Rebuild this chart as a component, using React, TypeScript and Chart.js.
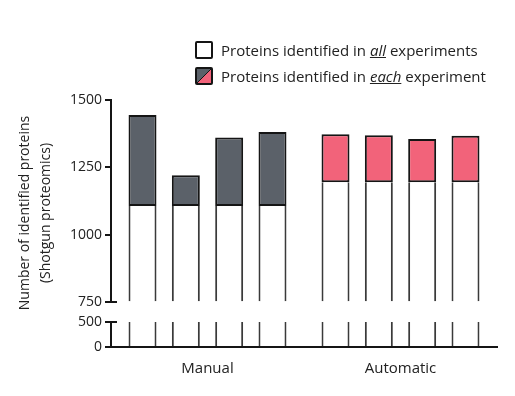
import React, { useEffect, useRef } from 'react';
import { Chart, registerables } from 'chart.js';

Chart.register(...registerables);

// ---------- data ----------
const categories = ['Manual', 'Automatic'];
const experiments = ['1', '2', '3', '4'];
// proteins identified in all experiments (per group)
const inAllExperiments = [1107, 1195];
// proteins identified in each experiment (bar totals)
const manualTotals = [1444, 1221, 1361, 1381];
const automaticTotals = [1373, 1369, 1355, 1367];
const upperTicks = [750, 1000, 1250, 1500];
const lowerTicks = [0, 500];
const groupColors = ['#5b6169', '#f2637a'];
const yTitleLines = ['Number of identified proteins', '(Shotgun proteomics)'];
const legendLabels = [
  ['Proteins identified in ', 'all', ' experiments'],
  ['Proteins identified in ', 'each', ' experiment'],
];

const FONT = '"Open Sans", "Noto Sans", sans-serif';
const TEXT = '#222222';
const AXIS = '#151515';
const LINE = '#3a3a3a';

export default function App() {
  const ref = useRef<HTMLCanvasElement | null>(null);

  useEffect(() => {
    if (!ref.current) return;
    const totals = [manualTotals, automaticTotals];
    const lowMax = lowerTicks[lowerTicks.length - 1];
    const datasets: any[] = [];
    experiments.forEach((e, i) => {
      datasets.push({
        label: 'all ' + e,
        data: inAllExperiments,
        yAxisID: 'yTop',
        stack: 'e' + e,
        base: upperTicks[0],
        backgroundColor: '#ffffff',
        borderColor: LINE,
        borderWidth: { left: 2, right: 2, top: 0, bottom: 0 },
        borderSkipped: false,
      });
      datasets.push({
        label: 'each ' + e,
        data: totals.map((t, g) => t[i] - inAllExperiments[g]),
        yAxisID: 'yTop',
        stack: 'e' + e,
        backgroundColor: groupColors,
        borderColor: AXIS,
        borderWidth: 2,
        borderSkipped: false,
      });
      datasets.push({
        label: 'low ' + e,
        data: inAllExperiments.map((v) => Math.min(v, lowMax)),
        yAxisID: 'yLow',
        stack: 'e' + e,
        backgroundColor: '#ffffff',
        borderColor: LINE,
        borderWidth: { left: 2, right: 2, top: 0, bottom: 0 },
        borderSkipped: false,
      });
    });

    const yCommon = (width: number) => ({
      afterFit: (s: any) => {
        s.width = width;
      },
    });

    const decor = {
      id: 'decor',
      afterDraw(chart: any) {
        const ctx = chart.ctx;
        const top = chart.scales.yTop;
        const low = chart.scales.yLow;
        ctx.save();
        ctx.strokeStyle = AXIS;
        ctx.lineWidth = 2;
        const x = top.right;
        const caps: [any, number][] = [
          [top, upperTicks[0]],
          [low, lowerTicks[lowerTicks.length - 1]],
        ];
        caps.forEach(([s, v]) => {
          const y = Math.round(s.getPixelForValue(v));
          ctx.beginPath();
          ctx.moveTo(x, y);
          ctx.lineTo(x + 6, y);
          ctx.stroke();
        });
        ctx.fillStyle = TEXT;
        ctx.font = '14px ' + FONT;
        ctx.textAlign = 'center';
        ctx.textBaseline = 'middle';
        ctx.translate(36, 213);
        ctx.rotate(-Math.PI / 2);
        ctx.fillText(yTitleLines[0], 0, -10.5);
        ctx.fillText(yTitleLines[1], 0, 10.5);
        ctx.restore();
      },
    };

    const tickFont = { family: FONT, size: 14 };
    const plain = (v: any) => String(v);
    const chart = new Chart(ref.current, {
      type: 'bar',
      data: { labels: categories, datasets },
      plugins: [decor],
      options: {
        animation: false,
        responsive: false,
        categoryPercentage: 0.898,
        barPercentage: 0.646,
        layout: { padding: { top: 100, right: 18, bottom: 0, left: 0 } },
        plugins: { legend: { display: false }, tooltip: { enabled: false } },
        scales: {
          x: {
            type: 'category',
            grid: { display: false, drawTicks: false },
            border: { display: true, color: AXIS, width: 2 },
            ticks: { color: TEXT, font: { family: FONT, size: 15 }, padding: 13 },
            afterFit: (s: any) => {
              s.height = 49;
            },
          },
          yLow: {
            type: 'linear',
            position: 'left',
            stack: 'y',
            stackWeight: 25,
            min: lowerTicks[0],
            max: lowerTicks[lowerTicks.length - 1],
            afterBuildTicks: (s: any) => {
              s.ticks = lowerTicks.map((v) => ({ value: v }));
            },
            grid: { drawOnChartArea: false, drawTicks: true, tickLength: 6, lineWidth: 2, color: AXIS, tickColor: AXIS },
            border: { display: true, color: AXIS, width: 2 },
            ticks: { color: TEXT, font: tickFont, padding: 3, autoSkip: false, callback: plain },
            ...yCommon(111),
          },
          yGap: {
            type: 'linear',
            position: 'left',
            display: true,
            stack: 'y',
            stackWeight: 20,
            min: 0,
            max: 1,
            grid: { display: false, drawTicks: false },
            border: { display: false },
            ticks: { display: false },
            ...yCommon(111),
          },
          yTop: {
            type: 'linear',
            position: 'left',
            stack: 'y',
            stackWeight: 203,
            min: upperTicks[0],
            max: upperTicks[upperTicks.length - 1],
            afterBuildTicks: (s: any) => {
              s.ticks = upperTicks.map((v) => ({ value: v }));
            },
            grid: { drawOnChartArea: false, drawTicks: true, tickLength: 6, lineWidth: 2, color: AXIS, tickColor: AXIS },
            border: { display: true, color: AXIS, width: 2 },
            ticks: { color: TEXT, font: tickFont, padding: 3, autoSkip: false, callback: plain },
            ...yCommon(111),
          },
        },
      } as any,
    });
    return () => chart.destroy();
  }, []);

  const boxStyle = (bg: string): React.CSSProperties => ({
    position: 'absolute',
    left: 195,
    width: 14,
    height: 14,
    border: '2px solid ' + AXIS,
    borderRadius: 2,
    background: bg,
  });
  const textStyle: React.CSSProperties = {
    position: 'absolute',
    left: 221,
    fontFamily: FONT,
    fontSize: 15,
    color: TEXT,
    lineHeight: '18px',
    whiteSpace: 'nowrap',
  };

  return (
    <div style={{ position: 'absolute', left: 0, top: 0, width: 515, height: 396, background: '#fff' }}>
      <canvas ref={ref} width={515} height={396} style={{ display: 'block' }} />
      <div style={{ ...boxStyle('#ffffff'), top: 41 }} />
      <div style={{ ...textStyle, top: 41 }}>
        {legendLabels[0][0]}
        <u><i>{legendLabels[0][1]}</i></u>
        {legendLabels[0][2]}
      </div>
      <div
        style={{
          ...boxStyle(`linear-gradient(to bottom right, ${groupColors[0]} 49%, ${AXIS} 50%, ${groupColors[1]} 51%)`),
          top: 67,
        }}
      />
      <div style={{ ...textStyle, top: 67 }}>
        {legendLabels[1][0]}
        <u><i>{legendLabels[1][1]}</i></u>
        {legendLabels[1][2]}
      </div>
    </div>
  );
}
